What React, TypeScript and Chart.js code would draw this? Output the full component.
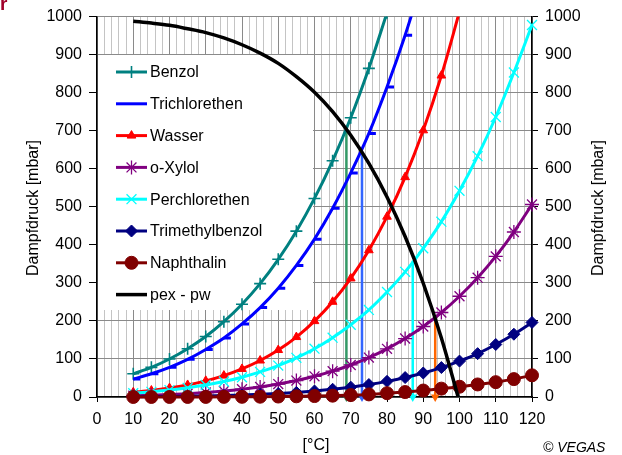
import React, { useEffect, useRef } from "react";
import { Chart, registerables } from "chart.js";
import { drawPoint } from "chart.js/helpers";

Chart.register(...registerables);

// ---------- data ----------
const temps = [10, 15, 20, 25, 30, 35, 40, 45, 50, 55, 60, 65, 70, 75, 80, 85, 90, 95, 100, 105, 110, 115, 120];

const benzol = [61, 78, 100, 127, 159, 198, 244, 298, 362, 436, 522, 621, 734, 864, 1010];
const trichlorethen = [47, 61, 78, 99, 125, 155, 192, 235, 286, 346, 415, 496, 589, 693, 815, 951, 1104];
const wasser = [12.3, 17, 23.4, 31.7, 42.5, 56.3, 73.8, 95.9, 123.5, 157.6, 199.5, 250.3, 311.8, 385.8, 474, 578, 701, 845, 1013];
const oXylol = [3.4, 4.7, 6.5, 8.8, 11.8, 15.6, 20.5, 26.5, 34, 43.2, 54.4, 68, 84.2, 103.6, 126.6, 153.7, 185.3, 222.1, 264.8, 313.6, 369.7, 433.7, 506];
const perchlorethen = [10.1, 13.7, 18.3, 24.2, 31.5, 40.7, 52, 65.9, 82.7, 103, 127, 156, 190, 229, 276, 329, 391, 461, 542, 633, 736, 853, 978];
const trimethylbenzol = [0.7, 1.0, 1.4, 2.0, 2.8, 3.8, 5.2, 7.0, 9.2, 12.1, 15.8, 20.3, 25.9, 32.7, 41.1, 51.1, 63.1, 77.4, 94.4, 114, 138, 165, 196];
const naphthalin = [0.03, 0.05, 0.1, 0.14, 0.22, 0.35, 0.55, 0.8, 1.2, 1.8, 2.5, 3.5, 5, 6.8, 10, 13, 17, 22, 27, 33, 39, 47, 57];
const pexMinusPw = [988, 983, 977, 968, 958, 944, 926, 904, 877, 842, 801, 750, 688, 614, 526, 422, 299, 155, -13];

// boiling markers (vertical lines): temperature and pressure where curve meets pex - pw
const markerTemps = [68.8, 73.1, 87.1, 93.3];
const markerPressures = [705, 645, 358, 207];
const markerColors = ["#339966", "#3366FF", "#00FFFF", "#FF6600"];

const seriesNames = ["Benzol", "Trichlorethen", "Wasser", "o-Xylol", "Perchlorethen", "Trimethylbenzol", "Naphthalin", "pex - pw"];
const seriesColors = ["#008080", "#0000FF", "#FF0000", "#800080", "#00FFFF", "#000080", "#800000", "#000000"];
const seriesValues = [benzol, trichlorethen, wasser, oXylol, perchlorethen, trimethylbenzol, naphthalin, pexMinusPw];
const seriesStyles: any[] = ["cross", "dash", "triangle", "star", "crossRot", "rectRot", "circle", false];
const seriesRadius = [6, 7, 5, 7, 7, 6, 6.5, 0];
const seriesPointBorder = [1.6, 3, 1, 1.3, 1.3, 1, 1, 0];

const yTicks = [0, 100, 200, 300, 400, 500, 600, 700, 800, 900, 1000];

const FONT = "'Liberation Sans', Arial, sans-serif";

const legendPlugin = {
  id: "customLegend",
  beforeDatasetsDraw(chart: any) {
    const ctx = chart.ctx;
    ctx.save();
    ctx.fillStyle = "#ffffff";
    ctx.fillRect(chart.chartArea.left + 1, 55, 313 - chart.chartArea.left - 1, 255);
    ctx.restore();
  },
  afterDatasetsDraw(chart: any) {
    const ctx = chart.ctx;
    ctx.save();
    const x0 = 116;
    const x1 = 147;
    const startY = 72;
    const step = 31.8;
    seriesNames.forEach((name, i) => {
      const y = startY + i * step;
      ctx.strokeStyle = seriesColors[i];
      ctx.fillStyle = seriesColors[i];
      ctx.lineWidth = i === 7 ? 3.5 : 3;
      ctx.beginPath();
      ctx.moveTo(x0, y);
      ctx.lineTo(x1, y);
      ctx.stroke();
      if (seriesStyles[i] && seriesStyles[i] !== "dash") {
        ctx.lineWidth = seriesPointBorder[i];
        drawPoint(ctx, { pointStyle: seriesStyles[i], radius: seriesRadius[i], rotation: 0, borderWidth: seriesPointBorder[i] } as any, (x0 + x1) / 2, y);
      }
      ctx.fillStyle = "#000";
      ctx.font = `16px ${FONT}`;
      ctx.textBaseline = "middle";
      ctx.textAlign = "left";
      ctx.fillText(name, 150, y + 1);
    });
    ctx.restore();
  },
};

export default function App() {
  const ref = useRef<HTMLCanvasElement>(null);

  useEffect(() => {
    document.body.style.margin = "0";
    const canvas = ref.current!;
    Chart.defaults.font.family = FONT;
    Chart.defaults.font.size = 16;
    Chart.defaults.color = "#000";

    const datasets: any[] = [];

    markerTemps.forEach((t, i) => {
      datasets.push({
        label: "m" + i,
        data: [
          { x: t, y: markerPressures[i] },
          { x: t, y: 0 },
        ],
        borderColor: markerColors[i],
        backgroundColor: markerColors[i],
        borderWidth: 2.5,
        pointRadius: [0, 5],
        pointStyle: "triangle",
        pointRotation: 180,
        pointBorderWidth: 0,
        clip: false,
        order: 100,
      });
    });

    seriesNames.forEach((name, i) => {
      const vals = seriesValues[i];
      const exceeds = vals.some((v) => v > 1000 || v < 0);
      datasets.push({
        label: name,
        data: vals.map((v, k) => ({ x: temps[k], y: v })),
        borderColor: seriesColors[i],
        backgroundColor: seriesColors[i],
        pointBorderColor: seriesColors[i],
        pointBackgroundColor: seriesColors[i],
        borderWidth: i === 7 ? 3.5 : 3,
        pointStyle: seriesStyles[i] || "circle",
        pointRadius: seriesRadius[i],
        pointBorderWidth: seriesPointBorder[i],
        cubicInterpolationMode: "monotone",
        fill: false,
        clip: exceeds ? { left: 20, right: 20, top: 0, bottom: 0 } : false,
        order: 50 - i,
      });
    });

    const chart = new Chart(canvas, {
      type: "line",
      data: { datasets },
      options: {
        responsive: false,
        animation: false,
        events: [],
        layout: { padding: { top: 16, left: 0, right: 0, bottom: 0 } },
        plugins: { legend: { display: false }, tooltip: { enabled: false } },
        scales: {
          x: {
            type: "linear",
            min: 0,
            max: 120,
            afterFit: (s: any) => {
              s.height = 58;
            },
            ticks: {
              stepSize: 2,
              autoSkip: false,
              maxRotation: 0,
              padding: 8,
              font: { size: 16 },
              callback: (v: any) => (Number(v) % 10 === 0 ? String(v) : ""),
            },
            grid: {
              color: (c: any) => (c.tick && c.tick.value % 10 === 0 ? "#8a8a8a" : "#c4c4c4"),
              tickColor: (c: any) => (c.tick && c.tick.value % 10 === 0 ? "#000" : "rgba(0,0,0,0)"),
              tickLength: 5,
              lineWidth: 1,
            },
            border: { display: true, color: "#000", width: 1.5 },
          },
          y: {
            type: "linear",
            position: "left",
            min: 0,
            max: 1000,
            afterFit: (s: any) => {
              s.width = 97;
            },
            afterBuildTicks: (s: any) => {
              s.ticks = yTicks.map((v) => ({ value: v }));
            },
            ticks: { padding: 7, font: { size: 16 }, callback: (v: any) => String(v) },
            grid: { color: "#8a8a8a", tickColor: "#000", tickLength: 8 },
            border: { display: true, color: "#000", width: 1.5 },
          },
          y2: {
            type: "linear",
            position: "right",
            min: 0,
            max: 1000,
            afterFit: (s: any) => {
              s.width = 90;
            },
            afterBuildTicks: (s: any) => {
              s.ticks = yTicks.map((v) => ({ value: v }));
            },
            ticks: { padding: 7, font: { size: 16 }, callback: (v: any) => String(v) },
            grid: { drawOnChartArea: false, tickColor: "#000", tickLength: 6 },
            border: { display: true, color: "#000", width: 1.5 },
          },
        },
      } as any,
      plugins: [legendPlugin],
    });
    return () => chart.destroy();
  }, []);

  const txt: React.CSSProperties = { position: "absolute", fontFamily: FONT, fontSize: 16, color: "#000", whiteSpace: "nowrap" };

  return (
    <div style={{ position: "relative", width: 622, height: 455, overflow: "hidden", background: "#fff" }}>
      <canvas ref={ref} width={622} height={455} style={{ display: "block" }} />
      <div style={{ ...txt, left: 0, top: -7, fontSize: 19, fontWeight: "bold", color: "#A0002A" }}>r</div>
      <div style={{ ...txt, left: 33, top: 208, transform: "translate(-50%,-50%) rotate(-90deg)" }}>Dampfdruck [mbar]</div>
      <div style={{ ...txt, left: 598, top: 208, transform: "translate(-50%,-50%) rotate(-90deg)" }}>Dampfdruck [mbar]</div>
      <div style={{ ...txt, left: 316, top: 445, transform: "translate(-50%,-50%)" }}>[°C]</div>
      <div style={{ ...txt, left: 543, top: 439, fontSize: 14, fontStyle: "italic" }}>© VEGAS</div>
    </div>
  );
}
